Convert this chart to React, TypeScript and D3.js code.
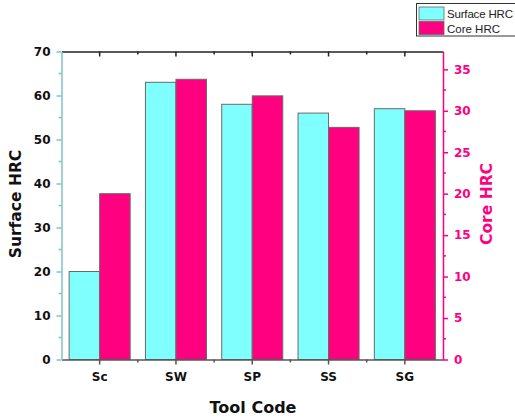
import React, { useEffect, useRef } from 'react'
import * as d3 from 'd3'

// tool codes and hardness readings
const toolCodes = ['Sc', 'SW', 'SP', 'SS', 'SG']
const surfaceHRC = [20, 63, 58, 56, 57]
const coreHRC = [20, 33.8, 31.8, 28, 30]

const leftTicks = [0, 10, 20, 30, 40, 50, 60, 70]
const rightTicks = [0, 5, 10, 15, 20, 25, 30, 35]

const CYAN = '#80ffff'
const PINK = '#ff0080'
const FONT = 'Liberation Sans, Arial, sans-serif'
const BOLD = 'DejaVu Sans, Arial, sans-serif'

export default function App() {
  const ref = useRef<SVGSVGElement>(null)

  useEffect(() => {
    const svg = d3.select(ref.current)
    svg.selectAll('*').remove()

    const width = 515, height = 419
    const margin = { top: 51.5, right: 72, bottom: 59.5, left: 61.5 }
    const w = width - margin.left - margin.right
    const h = height - margin.top - margin.bottom

    const g = svg.append('g')
      .attr('transform', 'translate(' + margin.left + ',' + margin.top + ')')

    const x = d3.scaleBand().domain(toolCodes).range([0, w]).padding(0)
    const yL = d3.scaleLinear().domain([0, 70]).range([h, 0])
    const yR = d3.scaleLinear().domain([0, 37.15]).range([h, 0])

    const barW = x.bandwidth() * 0.4

    // surface bars (left axis)
    g.append('g').selectAll('rect')
      .data(toolCodes)
      .enter().append('rect')
      .attr('x', d => x(d)! + x.bandwidth() / 2 - barW)
      .attr('y', (d, i) => yL(surfaceHRC[i]))
      .attr('width', barW)
      .attr('height', (d, i) => h - yL(surfaceHRC[i]))
      .attr('fill', CYAN)
      .attr('stroke', '#6a6a6a')
      .attr('stroke-width', 1)

    // core bars (right axis)
    g.append('g').selectAll('rect')
      .data(toolCodes)
      .enter().append('rect')
      .attr('x', d => x(d)! + x.bandwidth() / 2)
      .attr('y', (d, i) => yR(coreHRC[i]))
      .attr('width', barW)
      .attr('height', (d, i) => h - yR(coreHRC[i]))
      .attr('fill', PINK)
      .attr('stroke', '#6a6a6a')
      .attr('stroke-width', 1)

    // minor tick positions at band edges
    const edges = toolCodes.map(d => x(d)!).slice(1)

    // bottom axis
    const gX = g.append('g')
      .attr('transform', 'translate(0,' + h + ')')
      .call(d3.axisBottom(x).tickSizeInner(5).tickSizeOuter(0).tickPadding(8))
    gX.selectAll('.tick text')
      .attr('font-size', 12).attr('font-weight', 'bold')
      .attr('font-family', BOLD).attr('fill', '#111')
    gX.select('.domain').attr('stroke', '#555').attr('stroke-width', 1.5)
    gX.selectAll('.tick line').attr('stroke', '#555').attr('stroke-width', 1.5)
    gX.selectAll('.minor').data(edges).enter().append('line')
      .attr('x1', d => d).attr('x2', d => d).attr('y1', 0).attr('y2', 3)
      .attr('stroke', '#555').attr('stroke-width', 1.5)

    // top axis (ticks pointing in)
    const gT = g.append('g')
      .call(d3.axisTop(x).tickSizeInner(-5).tickSizeOuter(0).tickFormat(() => ''))
    gT.select('.domain').attr('stroke', '#222').attr('stroke-width', 1.5)
    gT.selectAll('.tick line').attr('stroke', '#222').attr('stroke-width', 1.5)
    gT.selectAll('.minor').data(edges).enter().append('line')
      .attr('x1', d => d).attr('x2', d => d).attr('y1', 0).attr('y2', 3)
      .attr('stroke', '#222').attr('stroke-width', 1.5)

    // left axis
    const gY = g.append('g')
      .call(d3.axisLeft(yL).tickValues(leftTicks).tickSizeInner(5).tickSizeOuter(0).tickPadding(6))
    gY.select('.domain').attr('stroke', '#7fc4c4').attr('stroke-width', 1.5)
    gY.selectAll('.tick line').attr('stroke', '#7fc4c4').attr('stroke-width', 1.5)
    gY.selectAll('.tick text')
      .attr('font-size', 12).attr('font-weight', 'bold')
      .attr('font-family', BOLD).attr('fill', '#111')
    gY.selectAll('.minor').data(d3.range(5, 70, 10)).enter().append('line')
      .attr('x1', 0).attr('x2', -3).attr('y1', d => yL(d)).attr('y2', d => yL(d))
      .attr('stroke', '#7fc4c4').attr('stroke-width', 1.5)

    // right axis
    const gR = g.append('g')
      .attr('transform', 'translate(' + w + ',0)')
      .call(d3.axisRight(yR).tickValues(rightTicks).tickSizeInner(5).tickSizeOuter(0).tickPadding(6))
    gR.select('.domain').attr('stroke', PINK).attr('stroke-width', 1.5)
    gR.selectAll('.tick line').attr('stroke', PINK).attr('stroke-width', 1.5)
    gR.selectAll('.tick text')
      .attr('font-size', 12).attr('font-weight', 'bold')
      .attr('font-family', BOLD).attr('fill', PINK)
    gR.selectAll('.minor').data(d3.range(2.5, 37, 5)).enter().append('line')
      .attr('x1', 0).attr('x2', 3).attr('y1', d => yR(d)).attr('y2', d => yR(d))
      .attr('stroke', PINK).attr('stroke-width', 1.5)

    // axis titles
    svg.append('text')
      .attr('transform', 'translate(21,204) rotate(-90)')
      .attr('text-anchor', 'middle')
      .attr('font-size', 15.5).attr('font-weight', 'bold').attr('font-family', BOLD)
      .attr('fill', '#111')
      .text('Surface HRC')

    svg.append('text')
      .attr('transform', 'translate(492,204) rotate(-90)')
      .attr('text-anchor', 'middle')
      .attr('font-size', 15.5).attr('font-weight', 'bold').attr('font-family', BOLD)
      .attr('fill', PINK)
      .text('Core HRC')

    svg.append('text')
      .attr('x', 253).attr('y', 413)
      .attr('text-anchor', 'middle')
      .attr('font-size', 16).attr('font-weight', 'bold').attr('font-family', BOLD)
      .attr('fill', '#111')
      .text('Tool Code')

    // legend (box runs off the right edge like the original)
    const leg = svg.append('g')
    leg.append('rect')
      .attr('x', 416.5).attr('y', 3.5).attr('width', 110).attr('height', 32.5)
      .attr('fill', '#fff').attr('stroke', '#333').attr('stroke-width', 1)
    const items = [{ label: 'Surface HRC', color: CYAN }, { label: 'Core HRC', color: PINK }]
    items.forEach((it, i) => {
      leg.append('rect')
        .attr('x', 419).attr('y', 7 + i * 14.5).attr('width', 25).attr('height', 13)
        .attr('fill', it.color).attr('stroke', '#666').attr('stroke-width', 0.8)
      leg.append('text')
        .attr('x', 447).attr('y', 18 + i * 14.5)
        .attr('font-size', 11.5).attr('font-family', FONT).attr('fill', '#222')
        .attr('textLength', i === 0 ? 66 : null)
        .text(it.label)
    })
  }, [])

  return (
    <svg ref={ref} width={515} height={419}
      style={{ position: 'absolute', left: 0, top: 0, background: '#fff' }} />
  )
}
